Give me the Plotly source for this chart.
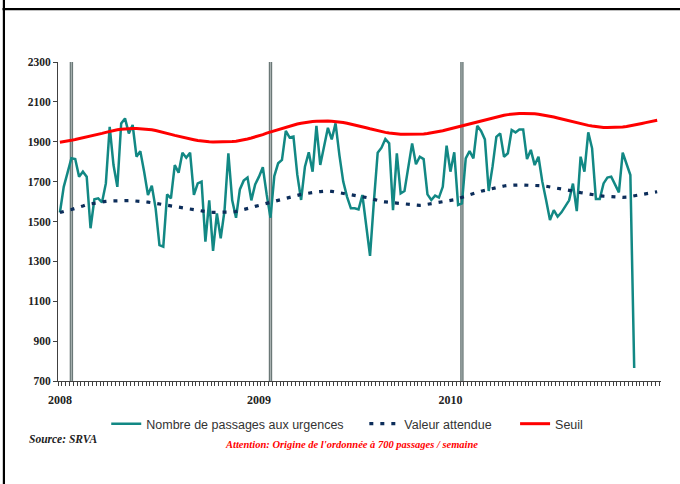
import plotly.graph_objects as go

# weekly values, week 0 = first plotted week (early Dec 2007)
passages = [
    1545, 1674, 1745, 1817, 1813, 1725, 1750, 1725, 1466, 1611,
    1616, 1596, 1691, 1975, 1783, 1674, 1992, 2017, 1942, 1984,
    1825, 1853, 1750, 1633, 1680, 1566, 1382, 1374, 1636, 1616,
    1783, 1745, 1845, 1820, 1845, 1633, 1691, 1700, 1399, 1606,
    1353, 1541, 1416, 1556, 1842, 1606, 1519, 1661, 1705, 1720,
    1606, 1686, 1725, 1772, 1636, 1519, 1728, 1792, 1809, 1954,
    1921, 1926, 1735, 1608, 1775, 1847, 1750, 1980, 1784, 1875,
    1970, 1912, 1992, 1833, 1700, 1624, 1566, 1566, 1560, 1633,
    1474, 1328, 1598, 1845, 1870, 1914, 1892, 1557, 1842, 1641,
    1653, 1783, 1892, 1787, 1825, 1813, 1636, 1608, 1630, 1620,
    1674, 1880, 1750, 1847, 1583, 1591, 1817, 1853, 1817, 1980,
    1954, 1912, 1653, 1775, 1925, 1942, 1825, 1842, 1959, 1947,
    1962, 1962, 1813, 1859, 1783, 1825, 1700, 1606, 1507, 1557,
    1524, 1546, 1574, 1606, 1690, 1552, 1825, 1750, 1947, 1867,
    1613, 1613, 1691, 1720, 1725, 1686, 1646, 1845, 1792, 1733,
    765,
]

attendue = [
    1545, 1552, 1556, 1560, 1565, 1570, 1578, 1585, 1589, 1593,
    1596, 1599, 1601, 1603, 1604, 1604, 1605, 1605, 1605, 1604,
    1603, 1602, 1600, 1597, 1594, 1591, 1588, 1584, 1580, 1577,
    1574, 1571, 1567, 1563, 1560, 1557, 1554, 1552, 1549, 1547,
    1546, 1546, 1546, 1546, 1547, 1548, 1550, 1554, 1560, 1565,
    1570, 1576, 1581, 1585, 1590, 1595, 1601, 1608, 1614, 1619,
    1624, 1628, 1632, 1636, 1639, 1643, 1646, 1648, 1650, 1652,
    1653, 1651, 1648, 1645, 1642, 1639, 1636, 1632, 1629, 1626,
    1622, 1617, 1611, 1605, 1600, 1598, 1596, 1593, 1591, 1589,
    1587, 1585, 1583, 1581, 1581, 1583, 1586, 1589, 1592, 1595,
    1598, 1601, 1604, 1609, 1615, 1622, 1628, 1634, 1640, 1646,
    1652, 1657, 1661, 1665, 1670, 1674, 1678, 1681, 1683, 1683,
    1683, 1683, 1683, 1683, 1682, 1681, 1679, 1677, 1674, 1671,
    1667, 1663, 1659, 1656, 1652, 1649, 1645, 1641, 1637, 1634,
    1631, 1629, 1627, 1625, 1623, 1622, 1621, 1621, 1622, 1625,
    1629, 1632, 1635, 1638, 1642, 1646, 1649,
]

seuil = [
    1898, 1900, 1903, 1907, 1911, 1915, 1919, 1924, 1929, 1934,
    1938, 1942, 1947, 1952, 1956, 1960, 1963, 1965, 1966, 1967,
    1967, 1966, 1965, 1963, 1960, 1956, 1952, 1947, 1942, 1937,
    1932, 1927, 1922, 1918, 1914, 1910, 1906, 1903, 1901, 1900,
    1899, 1899, 1899, 1899, 1900, 1901, 1903, 1906, 1910, 1914,
    1919, 1924, 1930, 1936, 1943, 1949, 1955, 1961, 1967, 1973,
    1978, 1984, 1989, 1993, 1997, 2000, 2002, 2003, 2004, 2004,
    2004, 2003, 2002, 2000, 1997, 1993, 1989, 1985, 1980, 1975,
    1970, 1965, 1960, 1955, 1951, 1947, 1944, 1941, 1939, 1938,
    1937, 1937, 1937, 1937, 1938, 1939, 1941, 1944, 1947, 1951,
    1955, 1960, 1965, 1970, 1975, 1980, 1985, 1990, 1995, 2000,
    2005, 2010, 2015, 2020, 2025, 2029, 2033, 2036, 2039, 2041,
    2042, 2042, 2042, 2041, 2040, 2038, 2035, 2032, 2028, 2024,
    2019, 2014, 2009, 2004, 1999, 1994, 1990, 1986, 1982, 1979,
    1976, 1974, 1972, 1971, 1971, 1971, 1972, 1974, 1977, 1980,
    1984, 1988, 1992, 1996, 2000, 2004, 2008,
]

year_labels = ["2008", "2009", "2010"]
year_label_weeks = [0, 52, 102]
year_start_weeks = [3, 55, 105]
y_ticks = [700, 900, 1100, 1300, 1500, 1700, 1900, 2100, 2300]

TEAL = "#128884"
NAVY = "#0c2d5a"
RED = "#ff0000"
AXIS = "#404040"
SERIF = "Liberation Serif, Times New Roman, serif"
SANS = "Liberation Sans, Arial, sans-serif"

weeks = list(range(len(seuil)))

fig = go.Figure()
fig.add_trace(go.Scatter(
    x=weeks[:len(passages)], y=passages, mode="lines",
    name="Nombre de passages aux urgences",
    line=dict(color=TEAL, width=2.5), legend="legend",
))
fig.add_trace(go.Scatter(
    x=weeks, y=attendue, mode="lines", name="Valeur attendue",
    line=dict(color=NAVY, width=3.2, dash="4px,7px"), legend="legend2",
))
fig.add_trace(go.Scatter(
    x=weeks, y=seuil, mode="lines", name="Seuil",
    line=dict(color=RED, width=3), legend="legend3",
))

# year separators
for w in year_start_weeks:
    fig.add_shape(type="line", x0=w, x1=w, y0=700, y1=2315, layer="below",
                  line=dict(color="#6b7877", width=3.4))
    fig.add_shape(type="line", x0=w, x1=w, y0=700, y1=2313, layer="below",
                  line=dict(color="#aab4b3", width=1))

# page frame
fig.add_shape(type="line", xref="paper", yref="paper", x0=-0.0897, x1=-0.0897,
              y0=-0.33, y1=1.2, line=dict(color="black", width=2.2))
fig.add_shape(type="line", xref="paper", yref="paper", x0=-0.092, x1=1.05,
              y0=1.166, y1=1.166, line=dict(color="black", width=2.2))

fig.add_annotation(
    text="<b><i>Source: SRVA</i></b>", xref="paper", yref="paper",
    x=-0.0514, y=-0.182, xanchor="left", yanchor="middle", showarrow=False,
    font=dict(family=SERIF, size=11.5, color="#222222"),
)
fig.add_annotation(
    text="<b><i>Attention: Origine de l'ordonnée à 700 passages / semaine</i></b>",
    xref="paper", yref="paper", x=0.486, y=-0.198, xanchor="center",
    yanchor="middle", showarrow=False,
    font=dict(family=SERIF, size=10.5, color=RED),
)

legend_common = dict(
    orientation="h", yref="paper", y=-0.135, yanchor="middle",
    xanchor="left", bgcolor="rgba(0,0,0,0)", borderwidth=0,
    font=dict(family=SANS, size=12.5, color="#333333"),
)

fig.update_layout(
    width=680, height=484,
    margin=dict(l=58, r=19, t=62, b=103),
    paper_bgcolor="white", plot_bgcolor="white",
    showlegend=True,
    legend=dict(x=0.08, **legend_common),
    legend2=dict(x=0.508, **legend_common),
    legend3=dict(x=0.758, **legend_common),
)
fig.update_xaxes(
    range=[-0.5, 157], showgrid=False, zeroline=False,
    showline=True, linecolor=AXIS, linewidth=1,
    tickmode="array", tickvals=year_label_weeks, ticktext=year_labels,
    ticks="", ticklabelstandoff=8,
    tickfont=dict(family=SERIF, size=12, color="#222222", weight="bold"),
    minor=dict(tickmode="linear", tick0=-0.5, dtick=1, ticks="outside",
               ticklen=4, tickcolor=AXIS, tickwidth=1, showgrid=False),
)
fig.update_yaxes(
    range=[700, 2300], showgrid=False, zeroline=False,
    showline=True, linecolor=AXIS, linewidth=1,
    tickmode="array", tickvals=y_ticks,
    ticks="outside", ticklen=4, tickcolor=AXIS,
    tickfont=dict(family=SERIF, size=11.5, color="#222222", weight="bold"),
)

# the page has a default 8px body margin; drop it so the figure sits at 0,0
fig.write_html(
    "out.html",
    config={"displayModeBar": False},
    post_script="document.body.style.margin='0px';",
)
